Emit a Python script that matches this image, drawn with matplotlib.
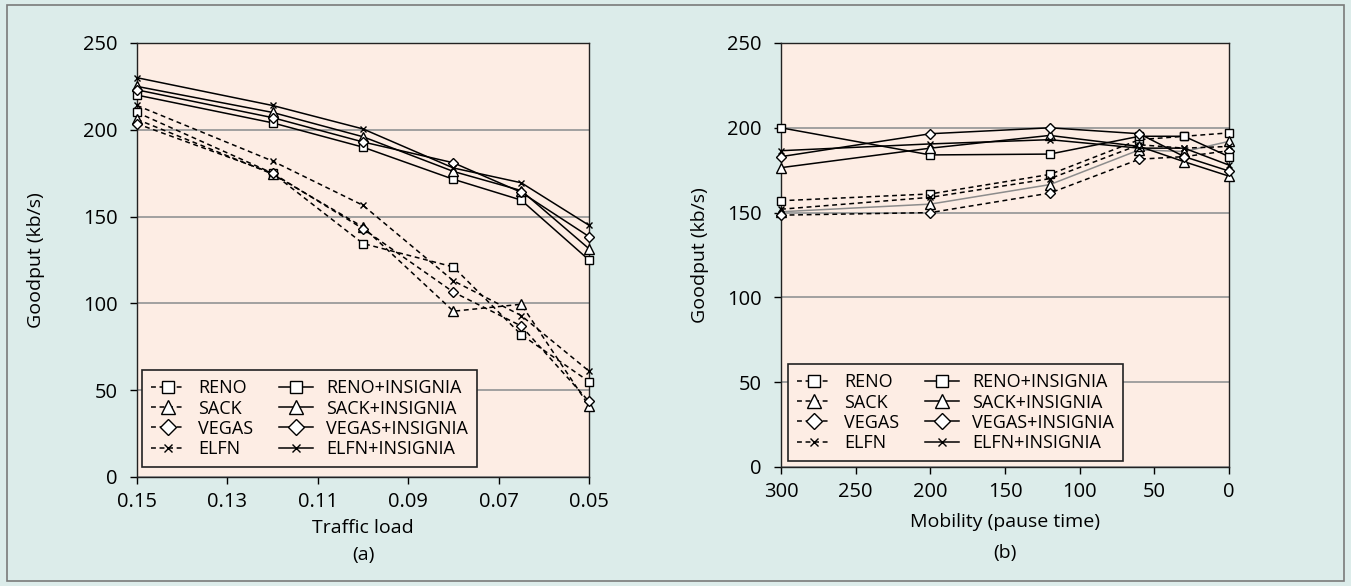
import matplotlib
matplotlib.use("Agg")
import matplotlib.pyplot as plt
from matplotlib.lines import Line2D
from matplotlib.patches import Rectangle

plt.rcParams['font.family'] = ['Open Sans', 'DejaVu Sans']

# ---------------- data ----------------
series_names = ["RENO", "SACK", "VEGAS", "ELFN",
                "RENO+INSIGNIA", "SACK+INSIGNIA", "VEGAS+INSIGNIA", "ELFN+INSIGNIA"]

load_x = [0.15, 0.12, 0.10, 0.08, 0.065, 0.05]
load_reno = [210, 175, 134.5, 121, 82, 55]
load_sack = [206, 174.5, 144, 95.5, 99.5, 41]
load_vegas = [203.5, 175, 143, 106.5, 87, 43.5]
load_elfn = [214, 182, 156.5, 113, 93, 61]
load_reno_ins = [220, 204, 190, 171.5, 159.5, 125]
load_sack_ins = [225, 210, 196, 176, 165, 131.5]
load_vegas_ins = [223, 207, 193, 181, 164, 138.5]
load_elfn_ins = [230, 214, 200.5, 178, 169.5, 145]

mob_x = [300, 200, 120, 60, 30, 0]
mob_reno = [157, 161, 172.5, 193, 195, 197]
mob_sack = [150.5, 155, 166.5, 187, 186, 192]
mob_vegas = [148.5, 150, 161.5, 181.5, 183, 186.5]
mob_elfn = [152, 159, 170, 190, 188, 189]
mob_reno_ins = [200, 184, 184.5, 195, 195, 183]
mob_sack_ins = [176.5, 188, 195.5, 189, 180, 171.5]
mob_vegas_ins = [183, 196.5, 200, 196.5, 183, 174.5]
mob_elfn_ins = [186.5, 190.5, 193, 188, 188, 178]

load_ticks = [0.15, 0.13, 0.11, 0.09, 0.07, 0.05]
mob_ticks = [300, 250, 200, 150, 100, 50, 0]
y_ticks = [0, 50, 100, 150, 200, 250]

# ---------------- styles ----------------
FIG_BG = "#dcecea"
AX_BG = "#fdede4"
markers = ['s', '^', 'D', 'x', 's', '^', 'D', 'x']
msizes = [5.5, 7, 5.5, 4.5, 5.5, 7, 5.5, 4.5]
leg_msizes = [8, 10, 8, 5.5, 8, 10, 8, 5.5]
DASH = (3.2, 2.4)

fig = plt.figure(figsize=(13.51, 5.86), dpi=100, facecolor=FIG_BG)
fig.patches.append(Rectangle((7/1351, 5/586), 1337/1351, 576/586,
                             transform=fig.transFigure, fill=False,
                             edgecolor="#7a7a7a", lw=1.2, zorder=0))

axL = fig.add_axes([137/1351, 1-477/586, 452/1351, 434/586])
axR = fig.add_axes([781/1351, 1-467/586, 448/1351, 424/586])


def style_axes(ax):
    ax.set_facecolor(AX_BG)
    ax.set_ylim(0, 250)
    ax.set_yticks(y_ticks)
    ax.yaxis.grid(True, color="#9a9a9a", lw=1.3)
    ax.set_axisbelow(True)
    for s in ax.spines.values():
        s.set_color("#222222")
        s.set_linewidth(1.0)
    ax.tick_params(axis='both', labelsize=14.5, length=5, width=1, direction='out')
    ax.tick_params(axis='y', pad=9)
    ax.tick_params(axis='x', pad=6)


def draw(ax, x, ys, gray_idx=None):
    for i, y in enumerate(ys):
        dashed = i < 4
        color = 'black'
        ls = '--' if dashed else '-'
        if gray_idx is not None and i == gray_idx:
            color = '#8c8c8c'
            ls = '-'
        line, = ax.plot(x, y, color=color, lw=1.1, linestyle=ls,
                        marker=markers[i], markersize=msizes[i],
                        markerfacecolor='white', markeredgecolor='black',
                        markeredgewidth=1.0, clip_on=False, zorder=3)
        if ls == '--':
            line.set_dashes(DASH)


def legend(ax, anchor):
    handles = []
    for i in range(8):
        h = Line2D([0], [0], color='black', lw=1.1,
                   linestyle='--' if i < 4 else '-',
                   marker=markers[i], markersize=leg_msizes[i],
                   markerfacecolor='white', markeredgecolor='black',
                   markeredgewidth=1.0)
        if i < 4:
            h.set_dashes(DASH)
        handles.append(h)
    leg = ax.legend(handles, series_names, ncol=2, loc='lower left',
                    bbox_to_anchor=anchor, borderaxespad=0,
                    fontsize=13, handlelength=1.85, handletextpad=0.75,
                    labelspacing=0.12, columnspacing=1.45, borderpad=0.5,
                    frameon=True, fancybox=False, numpoints=1)
    fr = leg.get_frame()
    fr.set_edgecolor('#222222')
    fr.set_facecolor(AX_BG)
    fr.set_alpha(1)
    fr.set_linewidth(1.2)
    return leg


def labels(ax, xlabel, sub, ylab_x, xlab_y, sub_y):
    ax.set_ylabel("Goodput (kb/s)", fontsize=14)
    ax.yaxis.set_label_coords(ylab_x, 0.5)
    ax.yaxis.label.set_va('center')
    ax.set_xlabel(xlabel, fontsize=14)
    ax.xaxis.set_label_coords(0.5, xlab_y)
    ax.xaxis.label.set_va('center')
    ax.text(0.5, sub_y, sub, transform=ax.transAxes, ha='center', va='center',
            fontsize=14)


# ---------------- left panel ----------------
style_axes(axL)
draw(axL, load_x, [load_reno, load_sack, load_vegas, load_elfn,
                   load_reno_ins, load_sack_ins, load_vegas_ins, load_elfn_ins])
axL.set_xlim(0.15, 0.05)
axL.set_xticks(load_ticks)
axL.set_xticklabels([f"{t:.2f}" for t in load_ticks])
labels(axL, "Traffic load", "(a)", (36-137)/452, (477-528)/434, (477-555)/434)
legend(axL, (5/452, 10/434))

# ---------------- right panel ----------------
style_axes(axR)
draw(axR, mob_x, [mob_reno, mob_sack, mob_vegas, mob_elfn,
                  mob_reno_ins, mob_sack_ins, mob_vegas_ins, mob_elfn_ins],
     gray_idx=1)
axR.set_xlim(300, 0)
axR.set_xticks(mob_ticks)
labels(axR, "Mobility (pause time)", "(b)", (700-781)/448, (467-522)/424, (467-553)/424)
legend(axR, (7/448, 6/424))

fig.savefig("out.png", dpi=100, facecolor=FIG_BG)
